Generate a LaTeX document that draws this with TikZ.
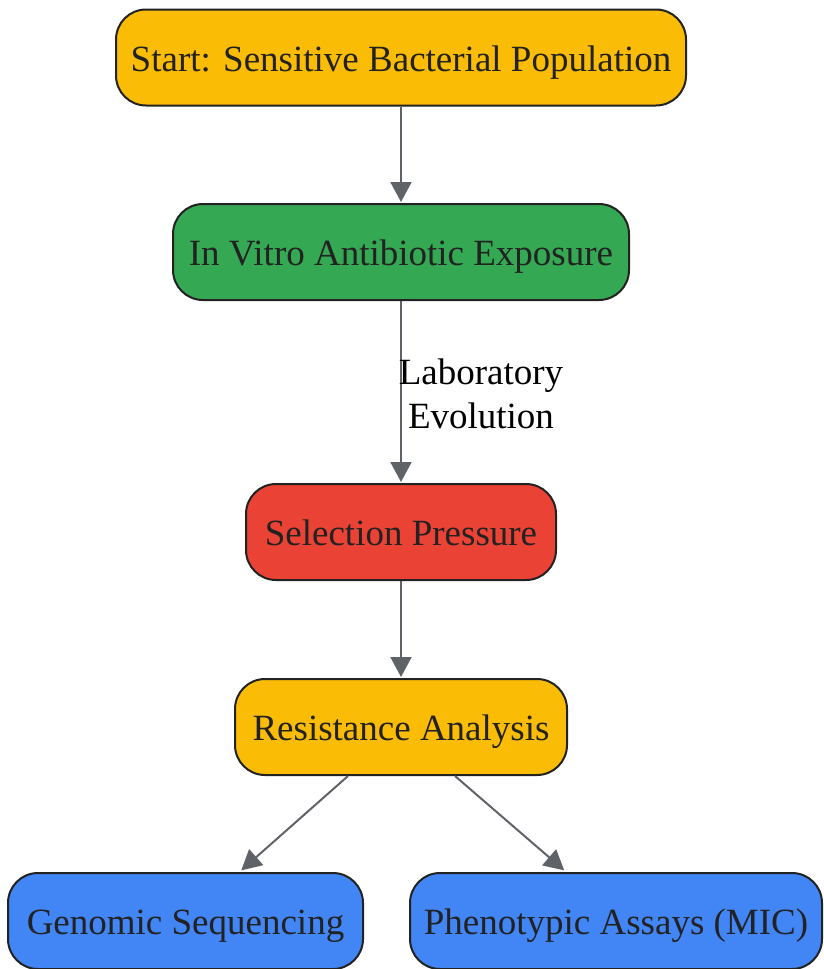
\documentclass[tikz,border=0pt]{standalone}
\usepackage{fontspec}
\setmainfont{Liberation Serif}
\usetikzlibrary{arrows.meta,calc}

\definecolor{gyellow}{HTML}{FBBC05}
\definecolor{ggreen}{HTML}{34A853}
\definecolor{gred}{HTML}{EA4335}
\definecolor{gblue}{HTML}{4285F4}
\definecolor{edgegray}{HTML}{5F6368}
\definecolor{inkdark}{HTML}{222222}

\tikzset{
    box/.style={draw=inkdark, line width=2pt, rounded corners=30pt, text=inkdark,
        minimum height=96pt, inner sep=0pt, text height=27.5pt, text depth=0pt,
        font=\fontsize{37}{44}\selectfont},
    flow/.style={draw=edgegray, line width=2pt,
        -{Triangle[length=20pt,width=21pt]}, shorten >=1pt}
}

\begin{document}
\begin{tikzpicture}[x=1pt,y=-1pt]
    \useasboundingbox (0,0) rectangle (823,969);

    \node[box, fill=gyellow, minimum width=570pt] (start) at (401,57.5) {Start: Sensitive Bacterial Population};
    \node[box, fill=ggreen, minimum width=456pt] (exposure) at (401,252) {In Vitro Antibiotic Exposure};
    \node[box, fill=gred, minimum width=310pt] (selection) at (401,532) {Selection Pressure};
    \node[box, fill=gyellow, minimum width=332pt] (analysis) at (401,727) {Resistance Analysis};
    \node[box, fill=gblue, minimum width=355pt] (genomic) at (185.5,921) {Genomic Sequencing};
    \node[box, fill=gblue, minimum width=412pt] (pheno) at (616,921) {Phenotypic Assays (MIC)};

    \draw[flow] (start) -- (exposure);
    \draw[flow] (exposure) -- (selection);
    \node[align=center, font=\fontsize{37}{44}\selectfont, inner sep=0pt] (evo) at (481,394) {Laboratory\\Evolution};
    \draw[flow] (selection) -- (analysis);

    % split to the two assays
    \coordinate (gsrc) at ($(analysis.south)+(-53,0)$);
    \coordinate (gdst) at ($(genomic.north)+(55,-1)$);
    \coordinate (psrc) at ($(analysis.south)+(54,0)$);
    \coordinate (pdst) at ($(pheno.north)+(-51,-1)$);
    \draw[flow] (gsrc) -- (gdst);
    \draw[flow] (psrc) -- (pdst);
\end{tikzpicture}
\end{document}
